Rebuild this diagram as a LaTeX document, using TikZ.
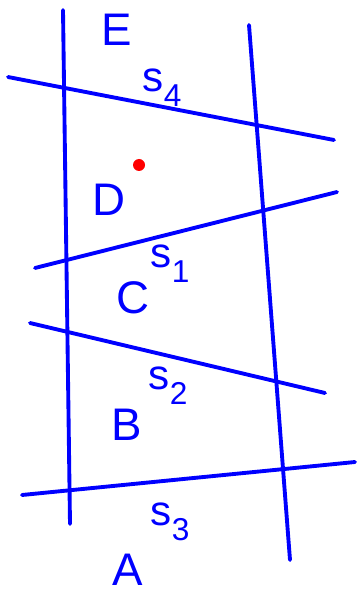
\documentclass[tikz,border=0pt]{standalone}
\usepackage{fontspec}
\setsansfont{Liberation Sans}
\usetikzlibrary{positioning}

\newcommand{\subidx}[1]{\raisebox{-0.35em}{\fontsize{18}{18}\selectfont #1}}

\begin{document}
\begin{tikzpicture}[
    x=0.02cm, y=-0.02cm,
    pen/.style={draw=blue, line width=2.2pt, line cap=round},
    region/.style={text=blue, font=\fontsize{26}{26}\selectfont\sffamily, inner sep=0pt},
    surface/.style={text=blue, font=\fontsize{24}{24}\selectfont\sffamily, inner sep=0pt},
]
    \useasboundingbox (0,0) rectangle (356,594);

    % Vertical walls
    \coordinate (lwtop) at (63,10);
    \coordinate (lwbot) at (70,524);
    \coordinate (rwtop) at (249,25);
    \coordinate (rwbot) at (290,560);
    \draw[pen] (lwtop) -- (lwbot);
    \draw[pen] (rwtop) -- (rwbot);

    % Cross lines
    \coordinate (s4a) at (8,77);
    \coordinate (s4b) at (334,140);
    \coordinate (s1a) at (35,268);
    \coordinate (s1b) at (337,192);
    \coordinate (s2a) at (30,323);
    \coordinate (s2b) at (325,393);
    \coordinate (s3a) at (22,495);
    \coordinate (s3b) at (355,462);
    \draw[pen] (s4a) -- (s4b);
    \draw[pen] (s1a) -- (s1b);
    \draw[pen] (s2a) -- (s2b);
    \draw[pen] (s3a) -- (s3b);

    % Region labels
    \node[region] (E) at (117,30) {E};
    \node[region] (D) at (109,200) {D};
    \node[region] (C) at (133,298) {C};
    \node[region] (B) at (127,425) {B};
    \node[region] (A) at (128,570) {A};

    % Surface labels
    \node[surface] (s4) at (162,88) {s\subidx{4}};
    \node[surface] (s1) at (170,264) {s\subidx{1}};
    \node[surface] (s2) at (168,386) {s\subidx{2}};
    \node[surface] (s3) at (170,522) {s\subidx{3}};

    % Point
    \fill[red] (139,165) circle (6) node (pt) {};
\end{tikzpicture}
\end{document}
